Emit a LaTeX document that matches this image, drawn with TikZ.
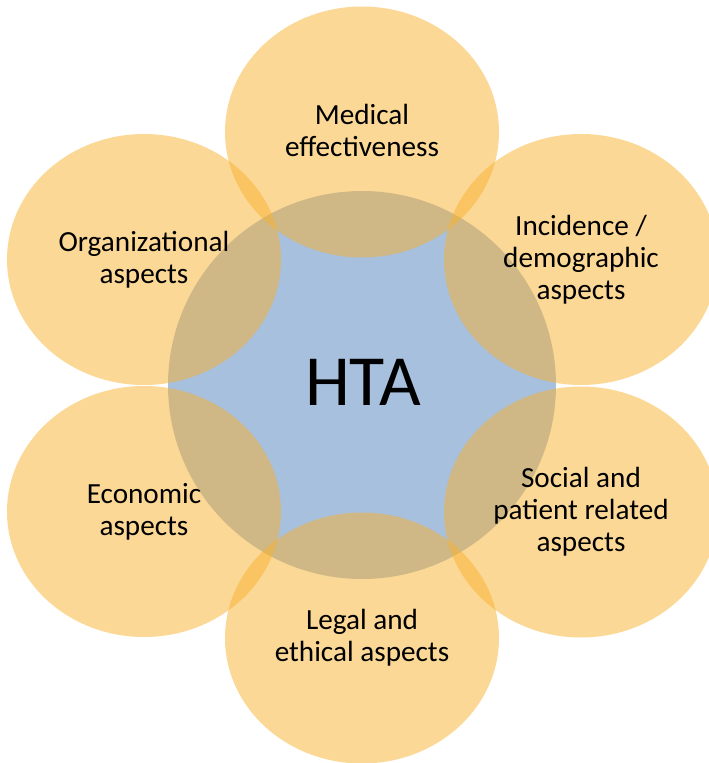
\documentclass[tikz,border=0pt]{standalone}
\usepackage{fontspec}
\setmainfont{Carlito}
\usetikzlibrary{shapes.geometric}
\definecolor{petalfill}{RGB}{247,177,45}
\definecolor{hubfill}{RGB}{79,129,189}
\begin{document}
\begin{tikzpicture}[x=1pt,y=-1pt,
  petal/.style={ellipse, draw=none, fill=petalfill, fill opacity=0.5,
    inner sep=0pt, minimum width=274pt, minimum height=251pt},
  hub/.style={circle, draw=none, fill=hubfill, fill opacity=0.5,
    inner sep=0pt, minimum size=388pt},
  topic/.style={align=center, text=black, text opacity=1, inner sep=0pt,
    font=\fontsize{29.2}{32}\selectfont}]
\useasboundingbox (0,0) rectangle (709,763);
\clip (0,0) rectangle (709,763);
% central circle
\node[hub] (hta) at (362,385) {};
% six surrounding petals
\node[petal] (med) at (362,132) {};
\node[petal] (org) at (144,259.5) {};
\node[petal] (inc) at (581,259.5) {};
\node[petal] (eco) at (144,511.5) {};
\node[petal] (soc) at (581,512) {};
\node[petal] (leg) at (362,638) {};
% labels
\node[text=black, font=\fontsize{72}{86}\selectfont, inner sep=0pt] (htalabel) at (363,382) {HTA};
\node[topic] (medlabel) at ([yshift=2pt]med.center) {Medical\\effectiveness};
\node[topic] (orglabel) at (org.center) {Organizational\\aspects};
\node[topic] (inclabel) at (inc.center) {Incidence /\\demographic\\aspects};
\node[topic] (ecolabel) at (eco.center) {Economic\\aspects};
\node[topic] (soclabel) at (soc.center) {Social and\\patient related\\aspects};
\node[topic] (leglabel) at (leg.center) {Legal and\\ethical aspects};
\end{tikzpicture}
\end{document}
